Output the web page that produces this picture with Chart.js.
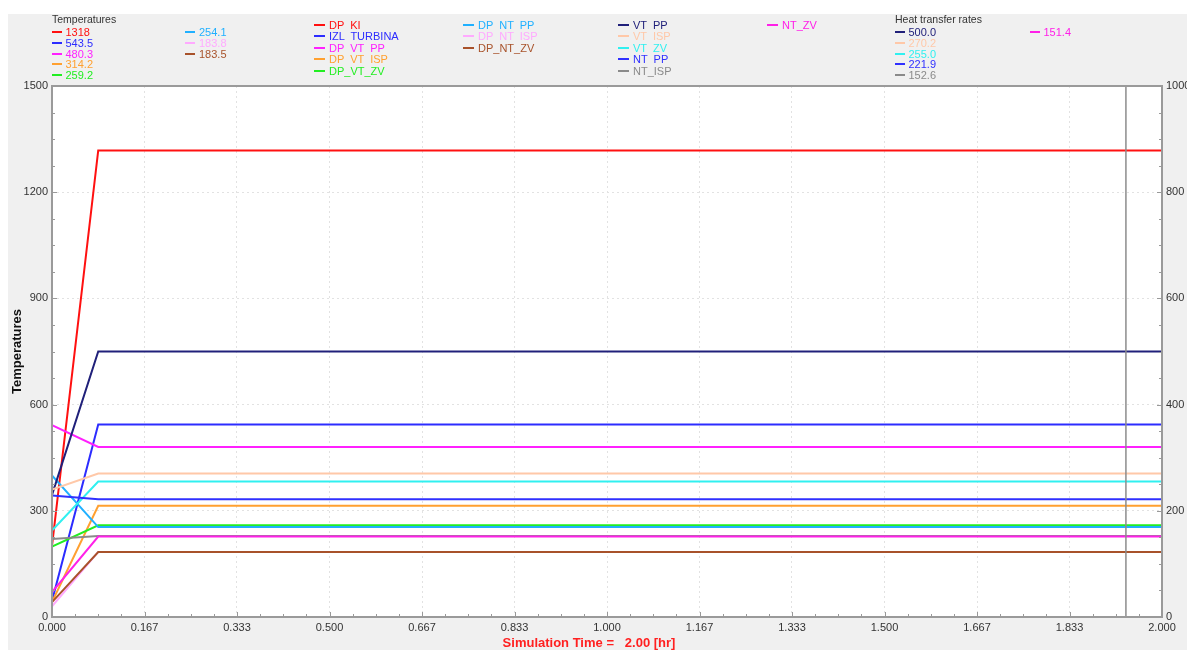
<!DOCTYPE html>
<html>
<head>
<meta charset="utf-8">
<script src="https://cdn.jsdelivr.net/npm/chart.js@4.4.1/dist/chart.umd.min.js"></script>
<style>
  body { margin: 0; width: 1187px; height: 650px; background: #fff; overflow: hidden; font-family: "Liberation Sans", Arial, sans-serif; }
  #fond { position: absolute; left: 8px; top: 14px; width: 1179px; height: 636px; background: #f0f0f0; }
  #graphe { position: absolute; left: 0; top: 0; }
  .leg { position: absolute; font-size: 11px; line-height: 12px; height: 12px; white-space: pre; }
  .leg i { position: absolute; top: 5px; height: 2px; }
  .titre { position: absolute; font-size: 10.5px; color: #333; }
  #axeX { position: absolute; left: 0; width: 1178px; top: 635px; text-align: center; font-size: 13px; font-weight: bold; color: #ff2020; white-space: pre; }
</style>
</head>
<body>
<div id="fond"></div>
<canvas id="graphe" width="1187" height="650"></canvas>
<div class="titre" style="left:52px;top:13px">Temperatures</div>
<div class="titre" style="left:895px;top:13px">Heat transfer rates</div>
<div id="axeX">Simulation Time =   2.00 [hr]</div>
<script>
// temps de simulation (h)
const temps = [0, 0.0833, 2.0];

// Temperatures (axe gauche)
const nomsTemp = ["DP  KI", "IZL  TURBINA", "DP  VT  PP", "DP  VT  ISP", "DP_VT_ZV", "DP  NT  PP", "DP  NT  ISP", "DP_NT_ZV"];
const couleursTemp = ["#ff1010", "#2c2cff", "#ff20ff", "#ffa030", "#22ee22", "#20b0ff", "#ffaaff", "#a8522a"];
const valeursTemp = [
  [201, 1318, 1318],
  [45, 543.5, 543.5],
  [542, 480.3, 480.3],
  [42, 314.2, 314.2],
  [199, 259.2, 259.2],
  [400, 254.1, 254.1],
  [30, 183.8, 183.8],
  [42, 183.5, 183.5]
];

// Heat transfer rates (axe droit)
const nomsChaleur = ["VT  PP", "VT  ISP", "VT  ZV", "NT  PP", "NT_ISP", "NT_ZV"];
const couleursChaleur = ["#20207a", "#ffc8a8", "#30f0f0", "#3030ff", "#8a8a8a", "#ff20e8"];
const valeursChaleur = [
  [230, 500.0, 500.0],
  [240, 270.2, 270.2],
  [163, 255.0, 255.0],
  [229, 221.9, 221.9],
  [147, 152.6, 152.6],
  [47, 151.4, 151.4]
];

const ticksX = [0, 0.1667, 0.3333, 0.5, 0.6667, 0.8333, 1.0, 1.1667, 1.3333, 1.5, 1.6667, 1.8333, 2.0];
const ticksY = [0, 300, 600, 900, 1200, 1500];
const ticksY2 = [0, 200, 400, 600, 800, 1000];
const curseur = 1.935;

function lisible(v) {
  return v >= 1000 ? v.toFixed(0) : v.toFixed(1);
}

// Legende en HTML
function ajouterLegende(texte, couleur, x, y, trait) {
  const d = document.createElement("div");
  d.className = "leg";
  d.style.left = x + "px";
  d.style.top = (y - 6) + "px";
  d.style.color = couleur;
  d.innerHTML = `<i style="background:${couleur};left:${-trait - 4}px;width:${trait}px"></i>${texte}`;
  document.body.appendChild(d);
}

valeursTemp.forEach((serie, i) => {
  const col = i < 5 ? 65.5 : 199;
  ajouterLegende(lisible(serie[serie.length - 1]), couleursTemp[i], col, 32.3 + (i % 5) * 10.7, 10);
});
nomsTemp.forEach((nom, i) => {
  const col = i < 5 ? 329 : 478;
  ajouterLegende(nom, couleursTemp[i], col, 24.5 + (i % 5) * 11.5, 11);
});
nomsChaleur.forEach((nom, i) => {
  const col = i < 5 ? 633 : 782;
  ajouterLegende(nom, couleursChaleur[i], col, 24.5 + (i % 5) * 11.5, 11);
});
valeursChaleur.forEach((serie, i) => {
  const col = i < 5 ? 908.5 : 1043.5;
  ajouterLegende(lisible(serie[serie.length - 1]), couleursChaleur[i], col, 32.3 + (i % 5) * 10.7, 10);
});

// Jeux de donnees
const jeux = [];
valeursTemp.forEach((serie, i) => {
  jeux.push({
    label: nomsTemp[i], yAxisID: "y", borderColor: couleursTemp[i],
    data: serie.map((v, k) => ({ x: temps[k], y: v }))
  });
});
valeursChaleur.forEach((serie, i) => {
  jeux.push({
    label: nomsChaleur[i], yAxisID: "y2", borderColor: couleursChaleur[i],
    data: serie.map((v, k) => ({ x: temps[k], y: v }))
  });
});
jeux.forEach((j, i) => {
  j.order = jeux.length - i;
  j.borderWidth = 2;
  j.pointRadius = 0;
  j.tension = 0;
  j.fill = false;
});

// fond blanc, cadre, petites graduations, curseur
const decor = {
  id: "decor",
  beforeDraw(chart) {
    const a = chart.chartArea, ctx = chart.ctx;
    ctx.save();
    ctx.fillStyle = "#fff";
    ctx.fillRect(a.left, a.top, a.right - a.left, a.bottom - a.top);
    ctx.restore();
  },
  afterDatasetsDraw(chart) {
    const a = chart.chartArea, ctx = chart.ctx;
    const sx = chart.scales.x, sy = chart.scales.y, sy2 = chart.scales.y2;
    ctx.save();
    ctx.strokeStyle = "#8c8c8c";
    ctx.lineWidth = 1.5;
    const px = sx.getPixelForValue(curseur);
    ctx.beginPath();
    ctx.moveTo(px, a.top);
    ctx.lineTo(px, a.bottom);
    ctx.stroke();

    ctx.strokeStyle = "#999";
    ctx.lineWidth = 1;
    ctx.beginPath();
    for (let k = 0; k <= 48; k++) {
      const x = Math.round(sx.getPixelForValue(k / 24)) + 0.5;
      ctx.moveTo(x, a.bottom);
      ctx.lineTo(x, a.bottom - (k % 4 === 0 ? 5 : 3));
    }
    for (let k = 0; k <= 20; k++) {
      const y = Math.round(sy.getPixelForValue(k * 75)) + 0.5;
      ctx.moveTo(a.left, y);
      ctx.lineTo(a.left + (k % 4 === 0 ? 5 : 3), y);
    }
    for (let k = 0; k <= 20; k++) {
      const y = Math.round(sy2.getPixelForValue(k * 50)) + 0.5;
      ctx.moveTo(a.right, y);
      ctx.lineTo(a.right - (k % 4 === 0 ? 5 : 3), y);
    }
    ctx.stroke();

    ctx.strokeStyle = "#9a9a9a";
    ctx.lineWidth = 2;
    ctx.strokeRect(a.left, a.top, a.right - a.left, a.bottom - a.top);
    ctx.restore();
  }
};

const policeTicks = { family: "'Liberation Sans', Arial, sans-serif", size: 11 };
const grille = { color: "#e2e2e2", lineWidth: 1, drawTicks: false };

new Chart(document.getElementById("graphe"), {
  type: "line",
  data: { datasets: jeux },
  options: {
    responsive: false,
    animation: false,
    layout: { padding: { top: 86, left: 0, right: 0, bottom: 0 } },
    plugins: { legend: { display: false }, tooltip: { enabled: false } },
    scales: {
      x: {
        type: "linear", min: 0, max: 2,
        afterBuildTicks: s => { s.ticks = ticksX.map(v => ({ value: v })); },
        afterFit: s => { s.height = 33; },
        ticks: { font: policeTicks, color: "#333", padding: 4, maxRotation: 0, callback: v => v.toFixed(3) },
        grid: grille,
        border: { display: false, dash: [2, 3] }
      },
      y: {
        position: "left", min: 0, max: 1500,
        afterBuildTicks: s => { s.ticks = ticksY.map(v => ({ value: v })); },
        afterFit: s => { s.width = 52; },
        ticks: { font: policeTicks, color: "#333", padding: 4, callback: v => String(v) },
        grid: grille,
        border: { display: false, dash: [2, 3] },
        title: { display: true, text: "Temperatures", color: "#111", font: { family: "'Liberation Sans', Arial, sans-serif", size: 13, weight: "bold" }, padding: { top: 10, bottom: 0 } }
      },
      y2: {
        position: "right", min: 0, max: 1000,
        afterBuildTicks: s => { s.ticks = ticksY2.map(v => ({ value: v })); },
        afterFit: s => { s.width = 25; },
        ticks: { font: policeTicks, color: "#333", padding: 4, callback: v => String(v) },
        grid: { drawOnChartArea: false, drawTicks: false },
        border: { display: false }
      }
    }
  },
  plugins: [decor]
});
</script>
</body>
</html>
